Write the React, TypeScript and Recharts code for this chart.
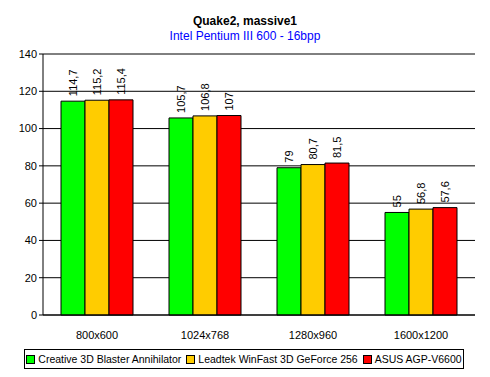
import { BarChart, Bar, XAxis, YAxis, CartesianGrid, ReferenceLine, LabelList } from 'recharts';

const categories = ['800x600', '1024x768', '1280x960', '1600x1200'];
const creative = [114.7, 105.7, 79, 55];
const leadtek = [115.2, 106.8, 80.7, 56.8];
const asus = [115.4, 107, 81.5, 57.6];
const yTicks = [0, 20, 40, 60, 80, 100, 120, 140];
const edgeTicks = [0, 1, 2, 3, 4];

const series = [
  { key: 'creative', name: 'Creative 3D Blaster Annihilator', color: '#00ff00' },
  { key: 'leadtek', name: 'Leadtek WinFast 3D GeForce 256', color: '#ffcc00' },
  { key: 'asus', name: 'ASUS AGP-V6600', color: '#ff0000' },
];

const data = categories.map((name, i) => ({
  name,
  creative: creative[i],
  leadtek: leadtek[i],
  asus: asus[i],
}));

const FONT = '"Liberation Sans", Arial, sans-serif';

// rotated value label sitting above each bar
const VerticalLabel = (props: any) => {
  const { x, y, width, value } = props;
  const cx = x + width / 2;
  const ty = y - 5;
  return (
    <text
      transform={`translate(${cx},${ty}) rotate(-90)`}
      textAnchor="start"
      dominantBaseline="central"
      fontSize={11}
      fontFamily={FONT}
      fill="#000"
    >
      {String(value).replace('.', ',')}
    </text>
  );
};

export default function App() {
  return (
    <div style={{ position: 'absolute', left: 0, top: 0, width: 490, height: 377, background: '#fff', fontFamily: FONT }}>
      <div style={{ position: 'absolute', top: 14, width: 490, textAlign: 'center', fontSize: 12, fontWeight: 'bold' }}>
        Quake2, massive1
      </div>
      <div style={{ position: 'absolute', top: 29, width: 490, textAlign: 'center', fontSize: 12, color: '#0000ff' }}>
        Intel Pentium III 600 - 16bpp
      </div>
      <BarChart
        width={490}
        height={377}
        data={data}
        margin={{ top: 54, right: 15, left: 0, bottom: 32 }}
        barCategoryGap={18}
        barGap={0}
      >
        <CartesianGrid vertical={false} stroke="#000" strokeOpacity={1} />
        <XAxis
          xAxisId="edges"
          type="number"
          domain={[0, 4]}
          ticks={edgeTicks}
          height={0}
          axisLine={false}
          tickLine={{ stroke: '#000' }}
          tickSize={5}
          tickFormatter={() => ''}
        />
        <XAxis
          dataKey="name"
          height={30}
          axisLine={{ stroke: '#000' }}
          tickLine={false}
          tick={{ fill: '#000', fontSize: 11, fontFamily: FONT }}
          tickMargin={10}
        />
        <YAxis
          width={43}
          domain={[0, 140]}
          ticks={yTicks}
          axisLine={{ stroke: '#000' }}
          tickLine={{ stroke: '#000' }}
          tickSize={4}
          tick={{ fill: '#000', fontSize: 11, fontFamily: FONT }}
        />
        <ReferenceLine y={140} stroke="#808080" />
        <ReferenceLine xAxisId="edges" x={4} stroke="#808080" />
        {series.map((s) => (
          <Bar key={s.key} dataKey={s.key} name={s.name} fill={s.color} stroke="#000" strokeWidth={1} isAnimationActive={false}>
            <LabelList dataKey={s.key} content={<VerticalLabel />} />
          </Bar>
        ))}
      </BarChart>
      <div
        style={{
          position: 'absolute',
          left: 24,
          top: 349,
          width: 440,
          height: 20,
          border: '1px solid #000',
          display: 'flex',
          alignItems: 'center',
          justifyContent: 'center',
          gap: 5,
          fontSize: 10.5,
          whiteSpace: 'nowrap',
          boxSizing: 'border-box',
        }}
      >
        {series.map((s) => (
          <span key={s.key} style={{ display: 'flex', alignItems: 'center', gap: 3, whiteSpace: 'nowrap' }}>
            <span style={{ width: 7, height: 7, background: s.color, border: '1px solid #000', display: 'inline-block', flexShrink: 0 }} />
            {s.name}
          </span>
        ))}
      </div>
    </div>
  );
}
